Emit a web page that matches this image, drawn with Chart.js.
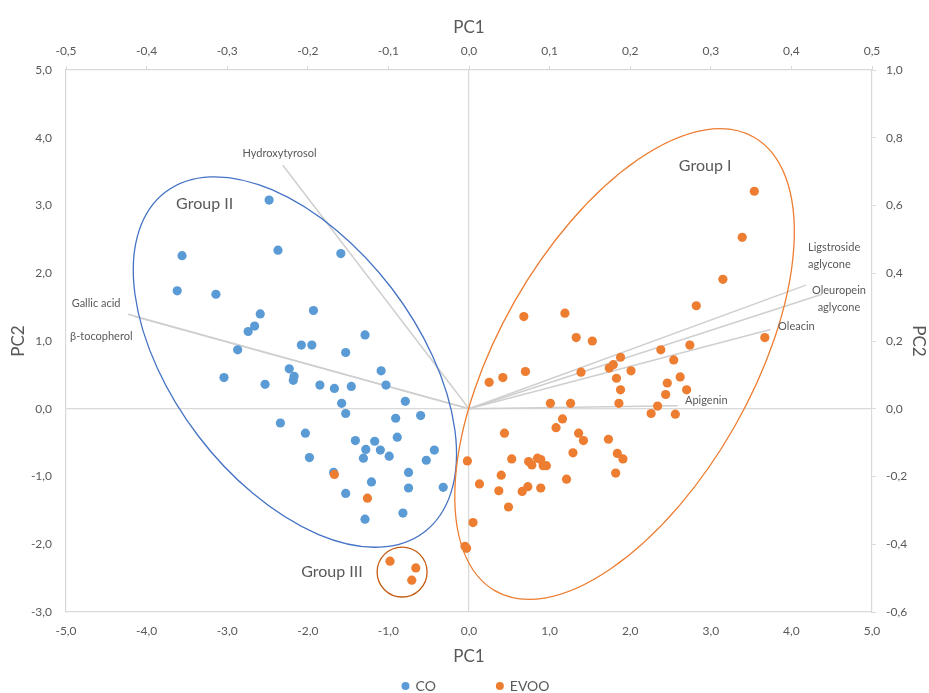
<!DOCTYPE html>
<html>
<head>
<meta charset="utf-8">
<script src="https://cdn.jsdelivr.net/npm/chart.js@4.4.1/dist/chart.umd.min.js"></script>
<style>
  html, body { margin: 0; padding: 0; background: #fff; }
</style>
</head>
<body>
<canvas id="biplot" width="929" height="693"></canvas>
<script>
// scores
var coPC1 = [-2.48, -3.56, -2.37, -1.59, -3.62, -3.14, -2.59, -1.93, -2.66, -2.74, -1.29, -2.87, -2.08, -1.95, -1.53,
  -2.23, -2.17, -2.18, -3.04, -1.09, -1.03, -2.53, -1.85, -1.67, -1.46, -1.58, -0.79, -1.53, -0.91, -0.60,
  -2.34, -2.03, -1.41, -1.17, -0.89, -1.28, -1.10, -1.31, -0.99, -0.43, -0.53, -1.98, -1.68, -0.75, -1.21,
  -0.75, -0.32, -1.53, -0.82, -1.29];
var coPC2 = [3.08, 2.26, 2.34, 2.29, 1.74, 1.69, 1.40, 1.45, 1.22, 1.14, 1.09, 0.87, 0.94, 0.94, 0.83,
  0.59, 0.48, 0.42, 0.46, 0.56, 0.35, 0.36, 0.35, 0.30, 0.33, 0.08, 0.11, -0.07, -0.14, -0.10,
  -0.21, -0.36, -0.47, -0.48, -0.42, -0.60, -0.61, -0.73, -0.70, -0.61, -0.76, -0.72, -0.94, -0.94, -1.08,
  -1.17, -1.16, -1.25, -1.54, -1.63];

var evooPC1 = [3.54, 3.39, 3.15, 2.82, 0.68, 1.19, 1.33, 1.53, 3.67, 2.38, 2.74, 2.54, 1.88, 1.79, 1.74, 2.01,
  1.39, 0.70, 0.42, 0.25, 1.83, 2.62, 2.46, 1.88, 2.70, 2.44, 1.01, 1.26, 1.86, 2.34, 2.26, 2.56, 1.16, 1.08,
  0.44, 1.36, 1.42, 1.73, -0.02, 0.53, 0.74, 0.78, 0.85, 0.89, 0.92, 0.96, 1.29, 1.84, 1.91, 1.82, 1.21, 0.40,
  0.13, 0.37, 0.66, 0.73, 0.89, 0.49, 0.05, -0.05, -0.03, -1.67, -1.26, -0.98, -0.66, -0.71];
var evooPC2 = [3.21, 2.53, 1.91, 1.52, 1.36, 1.41, 1.05, 1.00, 1.05, 0.87, 0.94, 0.72, 0.76, 0.65, 0.60, 0.56,
  0.54, 0.55, 0.46, 0.39, 0.45, 0.47, 0.38, 0.28, 0.28, 0.21, 0.08, 0.08, 0.08, 0.04, -0.07, -0.08, -0.15, -0.28,
  -0.36, -0.36, -0.47, -0.45, -0.77, -0.74, -0.78, -0.83, -0.73, -0.75, -0.84, -0.84, -0.65, -0.66, -0.74, -0.95, -1.04, -0.98,
  -1.11, -1.21, -1.22, -1.15, -1.17, -1.45, -1.68, -2.03, -2.06, -0.97, -1.32, -2.25, -2.35, -2.53];

// loadings (secondary axes)
var loadingNames = ['Hydroxytyrosol', 'Gallic acid', 'β-tocopherol', 'Ligstroside aglycone', 'Oleuropein aglycone', 'Oleacin', 'Apigenin'];
var loadingPC1 = [-0.231, -0.423, -0.415, 0.418, 0.438, 0.374, 0.259];
var loadingPC2 = [0.719, 0.279, 0.272, 0.365, 0.338, 0.234, 0.009];

// where the loading names sit (secondary axis units)
var loadingLabels = [
  { lines: ['Hydroxytyrosol'], x: -0.235, y: 0.754, align: 'center' },
  { lines: ['Gallic acid'], x: -0.493, y: 0.311, align: 'left' },
  { lines: ['β-tocopherol'], x: -0.495, y: 0.214, align: 'left' },
  { lines: ['Ligstroside', 'aglycone'], x: 0.4207, y: 0.477, align: 'left' },
  { lines: ['Oleuropein', 'aglycone'], x: 0.459, y: 0.350, align: 'center' },
  { lines: ['Oleacin'], x: 0.3835, y: 0.2435, align: 'left' },
  { lines: ['Apigenin'], x: 0.268, y: 0.025, align: 'left' }
];

// group outlines, in PC1/PC2 units
var groups = [
  { name: 'Group II', cx: -2.16, cy: 0.69, a: 2.65, b: 1.51, rot: 52.7, color: '#4472c4', lx: -3.28, ly: 3.02 },
  { name: 'Group I', cx: 1.93, cy: 0.66, a: 3.24, b: 1.57, rot: -60.3, color: '#ed7d31', lx: 2.93, ly: 3.59 },
  { name: 'Group III', cx: -0.83, cy: -2.41, a: 0.31, b: 0.31, rot: 0, color: '#c55a11', lx: -1.70, ly: -2.41 }
];

var FONT = 'Lato, "Open Sans", sans-serif';
var TXT = '#595959';
var AXIS = '#d9d9d9';

function pairs(xs, ys) {
  return xs.map(function (v, i) { return { x: v, y: ys[i] }; });
}
function comma(v) {
  return Number(v).toFixed(1).replace('.', ',');
}

var datasets = [
  { label: 'CO', data: pairs(coPC1, coPC2), backgroundColor: '#5b9bd5', borderWidth: 0, pointRadius: 4.6, order: 1 },
  { label: 'EVOO', data: pairs(evooPC1, evooPC2), backgroundColor: '#ed7d31', borderWidth: 0, pointRadius: 4.6, order: 0 }
];
loadingNames.forEach(function (n, i) {
  datasets.push({
    label: n,
    data: [{ x: 0, y: 0 }, { x: loadingPC1[i], y: loadingPC2[i] }],
    showLine: true,
    borderColor: '#cfcfcf',
    borderWidth: 1.5,
    pointRadius: 0,
    xAxisID: 'x2',
    yAxisID: 'y2',
    order: 5
  });
});

var overlay = {
  id: 'overlay',
  afterDatasetsDraw: function (chart) {
    var ctx = chart.ctx;
    var sx = chart.scales.x, sy = chart.scales.y, lx = chart.scales.x2, ly = chart.scales.y2;
    var unit = sx.getPixelForValue(1) - sx.getPixelForValue(0);
    ctx.save();
    groups.forEach(function (g) {
      ctx.beginPath();
      ctx.ellipse(sx.getPixelForValue(g.cx), sy.getPixelForValue(g.cy), g.a * unit, g.b * unit,
        g.rot * Math.PI / 180, 0, 2 * Math.PI);
      ctx.strokeStyle = g.color;
      ctx.lineWidth = 1.3;
      ctx.stroke();
      ctx.fillStyle = TXT;
      ctx.font = '16px ' + FONT;
      ctx.textAlign = 'center';
      ctx.textBaseline = 'middle';
      ctx.fillText(g.name, sx.getPixelForValue(g.lx), sy.getPixelForValue(g.ly));
    });
    ctx.font = '11px ' + FONT;
    ctx.fillStyle = TXT;
    loadingLabels.forEach(function (l) {
      ctx.textAlign = l.align;
      l.lines.forEach(function (t, k) {
        ctx.fillText(t, lx.getPixelForValue(l.x), ly.getPixelForValue(l.y) + k * 17);
      });
    });
    ctx.restore();
  },
  afterDraw: function (chart) {
    // legend for the two score series
    var ctx = chart.ctx;
    ctx.save();
    ctx.font = '14px ' + FONT;
    ctx.textBaseline = 'middle';
    var items = chart.data.datasets.slice(0, 2);
    var gap = 60, dot = 8, sp = 6;
    var total = 0;
    items.forEach(function (d) { total += dot + sp + ctx.measureText(d.label).width; });
    total += gap;
    var x = chart.width / 2 + 11 - total / 2, y = 686;
    items.forEach(function (d) {
      ctx.beginPath();
      ctx.arc(x + dot / 2, y, dot / 2, 0, 2 * Math.PI);
      ctx.fillStyle = d.backgroundColor;
      ctx.fill();
      ctx.fillStyle = TXT;
      ctx.textAlign = 'left';
      ctx.fillText(d.label, x + dot + sp, y);
      x += dot + sp + ctx.measureText(d.label).width + gap;
    });
    ctx.restore();
  }
};

function zeroGrid(c) {
  return c.tick && c.tick.value === 0 ? AXIS : 'rgba(0,0,0,0)';
}

new Chart(document.getElementById('biplot'), {
  type: 'scatter',
  data: { datasets: datasets },
  options: {
    responsive: false,
    animation: false,
    layout: { padding: 0 },
    plugins: { legend: { display: false }, tooltip: { enabled: false } },
    scales: {
      x: {
        type: 'linear', position: 'bottom', min: -5, max: 5,
        ticks: { stepSize: 1, padding: 12, color: TXT, font: { family: FONT, size: 12 }, callback: comma },
        grid: { color: zeroGrid, drawTicks: false, lineWidth: 1.2 },
        border: { display: true, color: AXIS, width: 1.2 },
        title: { display: true, text: 'PC1', color: TXT, font: { family: FONT, size: 17 }, padding: { top: 0, bottom: 26 } },
        afterFit: function (s) { s.height = 81; }
      },
      y: {
        type: 'linear', position: 'left', min: -3, max: 5,
        ticks: { stepSize: 1, padding: 14, color: TXT, font: { family: FONT, size: 12 }, callback: comma },
        grid: { color: zeroGrid, drawTicks: false, lineWidth: 1.2 },
        border: { display: true, color: AXIS, width: 1.2 },
        title: { display: true, text: 'PC2', color: TXT, font: { family: FONT, size: 17 }, padding: { top: 8, bottom: 0 } },
        afterFit: function (s) { s.width = 66; }
      },
      x2: {
        type: 'linear', position: 'top', min: -0.5, max: 0.5,
        ticks: { stepSize: 0.1, padding: 8, color: TXT, font: { family: FONT, size: 12 }, callback: comma },
        grid: { drawOnChartArea: false, drawTicks: true, tickLength: 4, color: AXIS },
        border: { display: true, color: AXIS, width: 1.2 },
        title: { display: true, text: 'PC1', color: TXT, font: { family: FONT, size: 17 }, padding: { top: 17, bottom: 0 } },
        afterFit: function (s) { s.height = 70; }
      },
      y2: {
        type: 'linear', position: 'right', min: -0.6, max: 1.0,
        ticks: { stepSize: 0.2, padding: 10, color: TXT, font: { family: FONT, size: 12 }, callback: comma },
        grid: { drawOnChartArea: false, drawTicks: true, tickLength: 4, color: AXIS },
        border: { display: true, color: AXIS, width: 1.2 },
        title: { display: true, text: 'PC2', color: TXT, font: { family: FONT, size: 17 }, padding: 0 },
        afterFit: function (s) { s.width = 57; }
      }
    }
  },
  plugins: [overlay]
});
</script>
</body>
</html>
